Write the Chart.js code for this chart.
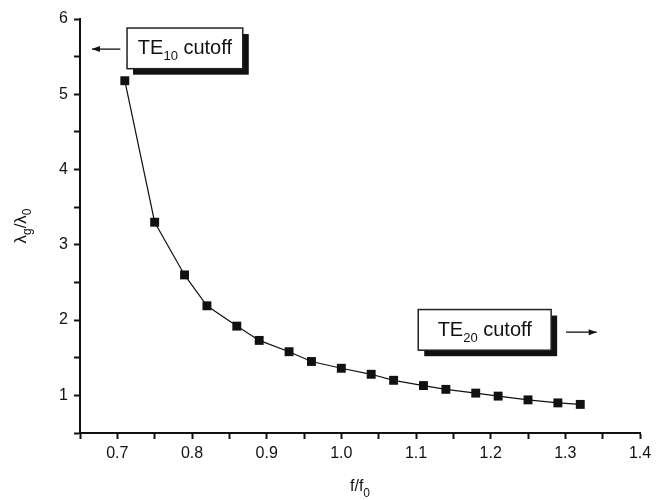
<!DOCTYPE html>
<html><head><meta charset="utf-8">
<script src="https://cdn.jsdelivr.net/npm/chart.js@4.4.0/dist/chart.umd.min.js"></script>
<style>html,body{margin:0;padding:0;background:#fff}#wrap{width:662px;height:500px}</style>
</head><body><div id="wrap"><canvas id="c" width="662" height="500"></canvas></div>
<script>
const freqRatio = [0.71,0.75,0.79,0.82,0.86,0.89,0.93,0.96,1.00,1.04,1.07,1.11,1.14,1.18,1.21,1.25,1.29,1.32];
const wavelengthRatio = [5.18,3.30,2.60,2.19,1.92,1.73,1.58,1.45,1.36,1.28,1.20,1.13,1.08,1.03,0.99,0.94,0.90,0.88];
const xRange = [0.65, 1.4];
const yRange = [0.5, 6];
// annotation boxes in data coordinates: [x1, x2, y1(top), y2(bottom)]
const cutoffLabels = ['TE|10| cutoff', 'TE|20| cutoff'];
const cutoffBoxes = [[0.713,0.868,5.88,5.34],[1.103,1.281,2.14,1.60]];
const cutoffArrows = [[0.704,0.666,5.60],[1.301,1.342,1.84]];

const FONT = '"Liberation Sans", Arial, sans-serif';

const decor = {
  id:'decor',
  afterDraw(chart){
    const ctx = chart.ctx, xs = chart.scales.x, ys = chart.scales.y;
    ctx.save();
    cutoffBoxes.forEach((b,i)=>{
      const x1 = xs.getPixelForValue(b[0]), x2 = xs.getPixelForValue(b[1]);
      const y1 = ys.getPixelForValue(b[2]), y2 = ys.getPixelForValue(b[3]);
      ctx.fillStyle = '#111';
      ctx.fillRect(x1+6, y1+6, x2-x1, y2-y1);
      ctx.fillStyle = '#fff';
      ctx.fillRect(x1, y1, x2-x1, y2-y1);
      ctx.lineWidth = 1.5; ctx.strokeStyle = '#222';
      ctx.strokeRect(x1, y1, x2-x1, y2-y1);
      const parts = cutoffLabels[i].split('|');
      const sizes = [20,13,20];
      let tot = 0; parts.forEach((p,k)=>{ctx.font = sizes[k]+'px '+FONT; tot += ctx.measureText(p).width;});
      ctx.fillStyle = '#111';
      ctx.textBaseline = 'alphabetic'; ctx.textAlign = 'left';
      let tx = (x1+x2)/2 - tot/2, ty = (y1+y2)/2 + 6;
      parts.forEach((p,k)=>{ctx.font = sizes[k]+'px '+FONT; ctx.fillText(p, tx, ty + (k===1?6:0)); tx += ctx.measureText(p).width;});
    });
    cutoffArrows.forEach(a=>{
      const xa = xs.getPixelForValue(a[0]), xb = xs.getPixelForValue(a[1]), y = ys.getPixelForValue(a[2]);
      ctx.strokeStyle = '#111'; ctx.lineWidth = 1.3;
      ctx.beginPath(); ctx.moveTo(xa, y); ctx.lineTo(xb, y); ctx.stroke();
      const d = Math.sign(xb-xa);
      ctx.fillStyle = '#111';
      ctx.beginPath(); ctx.moveTo(xb, y); ctx.lineTo(xb-d*8, y-3); ctx.lineTo(xb-d*8, y+3); ctx.closePath(); ctx.fill();
    });
    ctx.fillStyle = '#111';
    ctx.textAlign='left'; ctx.textBaseline='alphabetic';
    ctx.font = '16px ' + FONT;
    let w1 = ctx.measureText('f/f').width;
    ctx.font = '12px ' + FONT; let w2 = ctx.measureText('0').width;
    let sx = (xs.left+xs.right)/2 - (w1+w2)/2, sy = 491;
    ctx.font = '16px ' + FONT; ctx.fillText('f/f', sx, sy);
    ctx.font = '12px ' + FONT; ctx.fillText('0', sx+w1, sy+6);
    ctx.save();
    ctx.translate(26, (ys.top+ys.bottom)/2);
    ctx.rotate(-Math.PI/2);
    const segs = [['λ',17,0],['g',12,5],['/λ',17,0],['0',12,5]];
    let tot = 0; segs.forEach(s=>{ctx.font = s[1]+'px '+FONT; tot += ctx.measureText(s[0]).width;});
    let px = -tot/2;
    segs.forEach(s=>{ctx.font = s[1]+'px '+FONT; ctx.fillText(s[0], px, s[2]); px += ctx.measureText(s[0]).width;});
    ctx.restore();
    ctx.restore();
  }
};

new Chart(document.getElementById('c'), {
  type:'scatter',
  data:{datasets:[{
    data: freqRatio.map((x,i)=>({x, y: wavelengthRatio[i]})),
    showLine:true, borderColor:'#111', borderWidth:1.2,
    pointStyle:'rect', pointRadius:6.3, pointHoverRadius:6.3,
    pointBackgroundColor:'#111', pointBorderColor:'#111', pointBorderWidth:0
  }]},
  options:{
    responsive:false, animation:false, devicePixelRatio:1,
    layout:{padding:{top:19,right:22,left:0,bottom:0}},
    plugins:{legend:{display:false}, tooltip:{enabled:false}},
    scales:{
      x:{type:'linear', min:xRange[0], max:xRange[1],
        afterFit(s){s.height = 67;},
        border:{display:true,color:'#111',width:2},
        grid:{drawOnChartArea:false, drawTicks:true, tickLength:6, tickColor:'#111', tickWidth:2},
        ticks:{stepSize:0.05, autoSkip:false, maxRotation:0, padding:5, color:'#111', font:{family:FONT,size:16},
          callback(v){const k=Math.round(v*100); return (k%10===0)? (k/100).toFixed(1) : '';}}
      },
      y:{type:'linear', min:yRange[0], max:yRange[1],
        afterFit(s){s.width = 80;},
        border:{display:true,color:'#111',width:2},
        grid:{drawOnChartArea:false, drawTicks:true, tickLength:6, tickColor:'#111', tickWidth:2},
        ticks:{stepSize:0.5, autoSkip:false, padding:6, color:'#111', font:{family:FONT,size:16},
          callback(v){return Number.isInteger(v)? String(v) : '';}}
      }
    }
  },
  plugins:[decor]
});
</script></body></html>
